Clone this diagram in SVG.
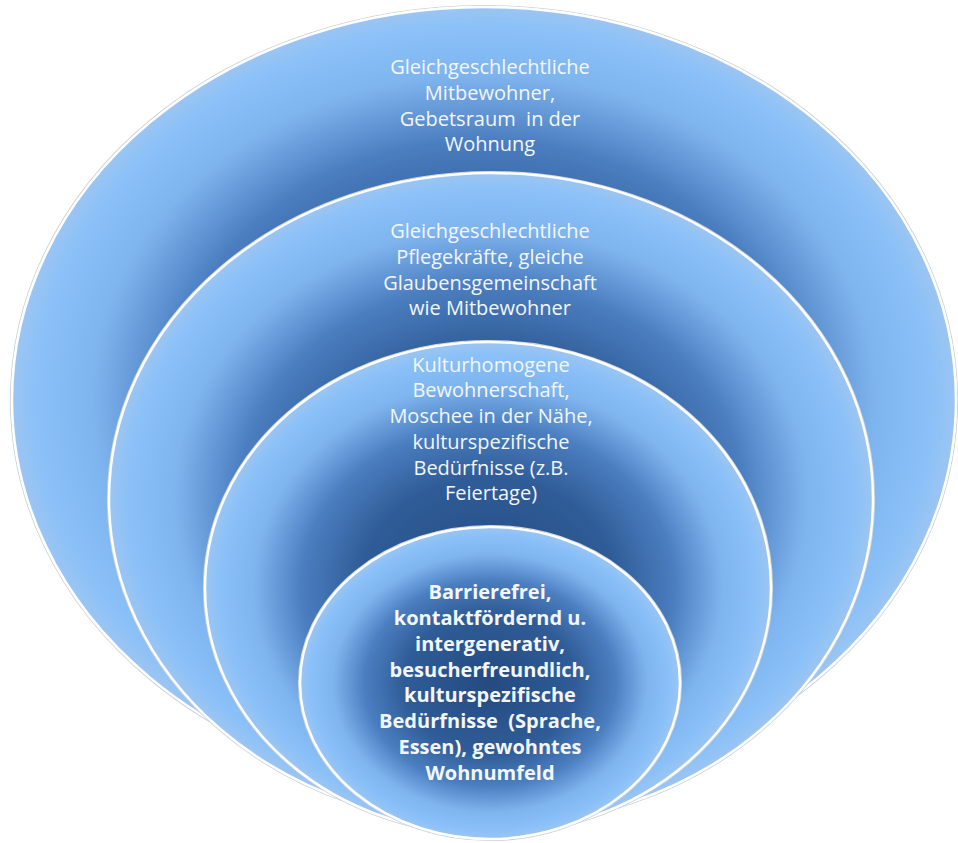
<svg xmlns="http://www.w3.org/2000/svg" width="958" height="843" viewBox="0 0 958 843">
<defs>
<radialGradient id="g" cx="0.5" cy="0.5" r="0.5">
<stop offset="0" stop-color="#244a80"/>
<stop offset="0.45" stop-color="#2f5c97"/>
<stop offset="0.66" stop-color="#4b7ec0"/>
<stop offset="0.83" stop-color="#7fb5ef"/>
<stop offset="0.95" stop-color="#8bc1f8"/>
<stop offset="1" stop-color="#9cc5f2"/>
</radialGradient>
</defs>
<style>
.sh{fill:none;stroke:#c9d1dc;stroke-width:1.2}
.el{fill:url(#g);stroke:#ffffff;stroke-width:2.5}
.t{font-family:"Open Sans","Liberation Sans",sans-serif;font-size:20px;fill:#f3f7fc;text-anchor:middle;white-space:pre}
.b{font-weight:bold}
</style>
<rect width="958" height="843" fill="#ffffff"/>
<g id="ring1">
<ellipse class="sh" cx="484" cy="400" rx="473.5" ry="394.5"/>
<ellipse class="el" cx="484" cy="400" rx="472" ry="393"/>
<text class="t" x="490" y="74">Gleichgeschlechtliche</text>
<text class="t" x="490" y="100">Mitbewohner,</text>
<text class="t" x="490" y="126">Gebetsraum  in der</text>
<text class="t" x="490" y="151">Wohnung</text>
</g>
<g id="ring2">
<ellipse class="sh" cx="491" cy="499" rx="383.5" ry="327.5"/>
<ellipse class="el" cx="491" cy="499" rx="382" ry="326"/>
<text class="t" x="490" y="238">Gleichgeschlechtliche</text>
<text class="t" x="490" y="264">Pflegekräfte, gleiche</text>
<text class="t" x="490" y="290">Glaubensgemeinschaft</text>
<text class="t" x="490" y="315">wie Mitbewohner</text>
</g>
<g id="ring3">
<ellipse class="sh" cx="488" cy="588" rx="284.5" ry="247.5"/>
<ellipse class="el" cx="488" cy="588" rx="283" ry="246"/>
<text class="t" x="491" y="372">Kulturhomogene</text>
<text class="t" x="491" y="397">Bewohnerschaft,</text>
<text class="t" x="491" y="423">Moschee in der Nähe,</text>
<text class="t" x="491" y="449">kulturspezifische</text>
<text class="t" x="491" y="475">Bedürfnisse (z.B.</text>
<text class="t" x="491" y="500">Feiertage)</text>
</g>
<g id="core">
<ellipse class="sh" cx="490" cy="683" rx="191.5" ry="157.5"/>
<ellipse class="el" cx="490" cy="683" rx="190" ry="156"/>
<text class="t b" x="490" y="599">Barrierefrei,</text>
<text class="t b" x="490" y="625">kontaktfördernd u.</text>
<text class="t b" x="490" y="651">intergenerativ,</text>
<text class="t b" x="490" y="677">besucherfreundlich,</text>
<text class="t b" x="490" y="702">kulturspezifische</text>
<text class="t b" x="490" y="728">Bedürfnisse  (Sprache,</text>
<text class="t b" x="490" y="754">Essen), gewohntes</text>
<text class="t b" x="490" y="780">Wohnumfeld</text>
</g>
</svg>
